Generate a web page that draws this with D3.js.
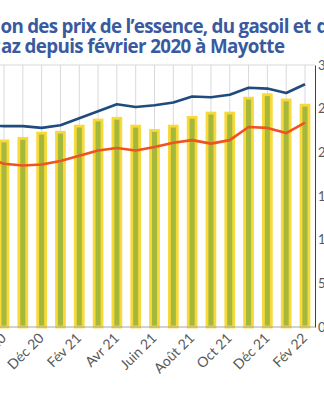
<!DOCTYPE html>
<html><head><meta charset="utf-8">
<script src="https://cdn.jsdelivr.net/npm/d3@7"></script>
<style>body{margin:0;background:#fff;overflow:hidden}</style>
</head><body><svg id="c" width="324" height="400"></svg>
<script>
const months = ["Sep 20","Oct 20","Nov 20","Déc 20","Jan 21","Fév 21","Mar 21","Avr 21","Mai 21","Juin 21","Juil 21","Août 21","Sep 21","Oct 21","Nov 21","Déc 21","Jan 22","Fév 22"];
const tickLabels = ["Oct 20","Déc 20","Fév 21","Avr 21","Juin 21","Août 21","Oct 21","Déc 21","Fév 22"];
const gazValues = [21.0,21.3,21.6,22.2,22.3,23.0,23.7,23.9,23.0,22.5,23.0,24.0,24.5,24.5,26.2,26.6,26.0,25.4];
const essenceValues = [23.1,23.0,23.0,22.8,23.1,23.9,24.7,25.5,25.2,25.4,25.7,26.4,26.3,26.6,27.4,27.3,26.8,27.8];
const gasoilValues = [19.4,18.7,18.5,18.6,19.0,19.6,20.2,20.5,20.2,20.6,21.1,21.4,21.0,21.4,22.9,22.8,22.2,23.4];
const yTicks = [0,5,10,15,20,25,30];
// title pieces: hidden prefix (off the left edge), visible part, trailing part (off the right edge)
const titleLine1 = ["Évoluti", "on des prix de l’essence, du gasoil et ", "du"];
const titleLine2 = ["g", "az depuis février 2020 à Mayotte"];

const svg = d3.select("#c");
const x = d3.scalePoint().domain(months).range([-14.8, 305]);
const y = d3.scaleLinear().domain([0,30]).range([327,65]);
const step = x.step();
const barW = step*0.42;
const axisX = 315;

// gridlines
svg.append("g").selectAll("line").data(months).join("line")
  .attr("x1",d=>x(d)).attr("x2",d=>x(d)).attr("y1",y(30)).attr("y2",y(0))
  .attr("stroke","#D9D9D9").attr("stroke-width",1);
svg.append("line").attr("x1",0).attr("x2",axisX).attr("y1",y(30)).attr("y2",y(30))
  .attr("stroke","#D9D9D9").attr("stroke-width",1);

// bars
svg.append("g").selectAll("rect").data(months).join("rect")
  .attr("x",d=>x(d)-barW/2).attr("width",barW)
  .attr("y",(d,i)=>y(gazValues[i])).attr("height",(d,i)=>y(0)-y(gazValues[i]))
  .attr("fill","#A6B83C").attr("stroke","#F7DA3A").attr("stroke-width",2.8);

// baseline
svg.append("line").attr("x1",0).attr("x2",axisX).attr("y1",y(0)).attr("y2",y(0))
  .attr("stroke","#A6A6A6").attr("stroke-width",1);

// lines
const line = vals => d3.line().x((d,i)=>x(months[i])).y(d=>y(d))(vals);
svg.append("path").attr("d",line(essenceValues)).attr("fill","none")
  .attr("stroke","#1F4B7E").attr("stroke-width",2.6).attr("stroke-linejoin","round");
svg.append("path").attr("d",line(gasoilValues)).attr("fill","none")
  .attr("stroke","#EE5320").attr("stroke-width",2.6).attr("stroke-linejoin","round");

// right axis
const ax = svg.append("g").attr("transform",`translate(${axisX},0)`)
  .call(d3.axisRight(y).tickValues(yTicks).tickSize(0).tickPadding(3));
ax.select(".domain").attr("stroke","#404040");
ax.selectAll("text").attr("font-family","Lato, 'Open Sans', sans-serif").attr("font-size",13).attr("fill","#595959");

// x labels
svg.append("g").selectAll("text").data(tickLabels).join("text")
  .attr("transform",d=>`translate(${x(d)+3},339) rotate(-45)`)
  .attr("text-anchor","end")
  .attr("font-family","Lato, 'Open Sans', sans-serif").attr("font-size",14).attr("fill","#595959")
  .text(d=>d);

// title
const tAttrs = s => s.attr("font-family","'Open Sans', sans-serif").attr("font-weight",700)
  .attr("font-size",18.8).attr("fill","#3A5AA0");
const t1 = svg.append("text").attr("y",32.5).call(tAttrs);
t1.append("tspan").attr("x",0).attr("text-anchor","end").text(titleLine1[0]);
t1.append("tspan").attr("x",0.5).attr("text-anchor","start")
  .attr("textLength",315).attr("lengthAdjust","spacing").text(titleLine1[1]);
t1.append("tspan").attr("x",316.5).attr("text-anchor","start").text(titleLine1[2]);
const t2 = svg.append("text").attr("y",53).call(tAttrs);
t2.append("tspan").attr("x",0).attr("text-anchor","end").text(titleLine2[0]);
t2.append("tspan").attr("x",1).attr("text-anchor","start")
  .attr("textLength",284).attr("lengthAdjust","spacing").text(titleLine2[1]);
</script>
</body></html>
